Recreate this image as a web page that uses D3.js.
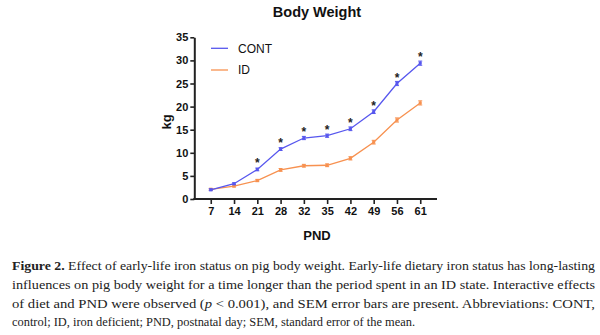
<!DOCTYPE html>
<html>
<head>
<meta charset="utf-8">
<script src="https://cdn.jsdelivr.net/npm/d3@7"></script>
<style>
  body { margin: 0; background: #fff; }
  svg { display: block; }
</style>
</head>
<body>
<div class="canvas"></div>
<script>
// Body weight (kg) by postnatal day
const days = ["7", "14", "21", "28", "32", "35", "42", "49", "56", "61"];
const contWeight = [2.0, 3.3, 6.4, 10.8, 13.2, 13.7, 15.2, 18.9, 25.0, 29.4];
const idWeight = [2.1, 2.8, 4.0, 6.3, 7.2, 7.3, 8.8, 12.3, 17.1, 20.8];
const contSem = [0.2, 0.2, 0.3, 0.3, 0.35, 0.35, 0.4, 0.4, 0.45, 0.45];
const idSem = [0.2, 0.2, 0.25, 0.3, 0.3, 0.3, 0.35, 0.4, 0.45, 0.45];
const significant = ["21", "28", "32", "35", "42", "49", "56", "61"];
const yTicks = [0, 5, 10, 15, 20, 25, 30, 35];

const captionLines = [
  [{ t: "Figure 2.", w: "bold" }, { t: " Effect of early-life iron status on pig body weight. Early-life dietary iron status has long-lasting" }],
  [{ t: "influences on pig body weight for a time longer than the period spent in an ID state. Interactive effects" }],
  [{ t: "of diet and PND were observed (" }, { t: "p", s: "italic" }, { t: " < 0.001), and SEM error bars are present.  Abbreviations: CONT," }],
  [{ t: "control; ID, iron deficient; PND, postnatal day; SEM, standard error of the mean." }],
];
// right edge of each caption line
const captionEnds = [595, 595, 595, 415];

const series = [
  { name: "CONT", values: contWeight, sem: contSem, color: "#5757ee" },
  { name: "ID", values: idWeight, sem: idSem, color: "#f79150" },
];

const W = 600, H = 335;
const svg = d3.select(".canvas").append("svg").attr("width", W).attr("height", H);

const x = d3.scalePoint().domain(days).range([194, 437]).padding(0.72);
const y = d3.scaleLinear().domain([0, 35]).range([199, 37.3]);

const sans = "'Liberation Sans', Arial, sans-serif";

// Title
svg.append("text")
  .attr("x", 317).attr("y", 17)
  .attr("text-anchor", "middle")
  .style("font", `bold 14.5px ${sans}`)
  .attr("fill", "#111")
  .text("Body Weight");

// Axes
const yAxis = svg.append("g")
  .attr("transform", "translate(194.3,0)")
  .call(d3.axisLeft(y).tickValues(yTicks).tickSize(4).tickPadding(2).tickSizeOuter(0));
const xAxis = svg.append("g")
  .attr("transform", `translate(0,${y(0)})`)
  .call(d3.axisBottom(x).tickSize(5).tickPadding(3).tickSizeOuter(0));

[yAxis, xAxis].forEach((g) => {
  g.select(".domain").attr("stroke", "#222").attr("stroke-width", 2);
  g.selectAll(".tick line").attr("stroke", "#222").attr("stroke-width", 1.6);
  g.selectAll(".tick text")
    .attr("fill", "#111")
    .style("font", `bold 11px ${sans}`);
});
// x axis line runs the full plot width
xAxis.select(".domain").attr("d", `M193.3,0H437`);

// Axis titles
svg.append("text")
  .attr("transform", "translate(171,122) rotate(-90)")
  .attr("text-anchor", "middle")
  .style("font", `bold 13px ${sans}`)
  .attr("fill", "#111")
  .text("kg");
svg.append("text")
  .attr("x", 317).attr("y", 240)
  .attr("text-anchor", "middle")
  .style("font", `bold 13px ${sans}`)
  .attr("fill", "#111")
  .text("PND");

// Lines, error bars, markers (ID drawn first so CONT sits on top)
const line = d3.line().x((d) => x(d.day)).y((d) => y(d.v));
[...series].reverse().forEach((s) => {
  const pts = days.map((day, i) => ({ day, v: s.values[i], e: s.sem[i] }));
  const g = svg.append("g");
  g.append("path")
    .datum(pts)
    .attr("d", line)
    .attr("fill", "none")
    .attr("stroke", s.color)
    .attr("stroke-width", 1.3);
  const err = g.selectAll(".err").data(pts).enter().append("g");
  err.append("path")
    .attr("d", (d) => {
      const cx = x(d.day), y1 = y(d.v + d.e), y2 = y(d.v - d.e);
      return `M${cx - 2},${y1}H${cx + 2}M${cx},${y1}V${y2}M${cx - 2},${y2}H${cx + 2}`;
    })
    .attr("stroke", s.color)
    .attr("stroke-width", 1)
    .attr("fill", "none");
  err.append("rect")
    .attr("x", (d) => x(d.day) - 1.5)
    .attr("y", (d) => y(d.v) - 1.5)
    .attr("width", 3).attr("height", 3)
    .attr("fill", s.color);
});

// Significance markers above CONT
svg.selectAll(".sig").data(significant).enter().append("text")
  .attr("x", (d) => x(d))
  .attr("y", (d) => y(contWeight[days.indexOf(d)]) - 2)
  .attr("text-anchor", "middle")
  .style("font", `bold 12px ${sans}`)
  .attr("fill", "#222")
  .text("*");

// Legend
const legend = svg.selectAll(".legend").data(series).enter().append("g")
  .attr("transform", (d, i) => `translate(211,${48.3 + i * 21.7})`);
legend.append("line")
  .attr("x1", 0).attr("x2", 17)
  .attr("stroke", (d) => d.color)
  .attr("stroke-width", 1.3);
legend.append("text")
  .attr("x", 27).attr("y", 4.3)
  .style("font", `12px ${sans}`)
  .attr("fill", "#111")
  .text((d) => d.name);

// Caption
const caption = svg.append("g");
captionLines.forEach((parts, i) => {
  const t = caption.append("text")
    .attr("x", 12)
    .attr("y", 270 + i * 18.8)
    .attr("fill", "#222")
    .attr("textLength", captionEnds[i] - 12)
    .attr("lengthAdjust", "spacingAndGlyphs")
    .style("font", "13.5px 'Liberation Serif', 'Times New Roman', serif");
  parts.forEach((p) => {
    t.append("tspan")
      .style("font-weight", p.w || "normal")
      .style("font-style", p.s || "normal")
      .text(p.t);
  });
});
</script>
</body>
</html>
